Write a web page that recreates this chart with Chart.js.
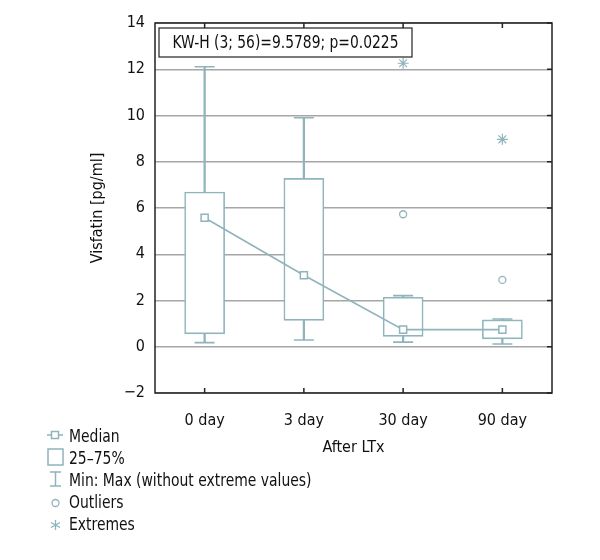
<!DOCTYPE html>
<html>
<head>
<meta charset="utf-8">
<script src="https://cdn.jsdelivr.net/npm/chart.js@4.4.1/dist/chart.umd.min.js"></script>
<style>
  body { margin: 0; background: #fff; }
  #wrap { position: relative; width: 600px; height: 560px; }
  #legend {
    position: absolute; left: 45px; top: 424px;
    font: 18px 'Liberation Sans Narrow', 'DejaVu Sans Condensed', 'Roboto Condensed', sans-serif;
    color: #111;
  }
  .row { height: 22px; display: flex; align-items: center; white-space: nowrap; }
  .row svg { width: 20px; height: 22px; margin-right: 4px; flex: none; }
  .row span { display: inline-block; transform: scaleX(0.86); transform-origin: left center; }
</style>
</head>
<body>
<div id="wrap">
  <canvas id="grafico" width="600" height="560"></canvas>
  <div id="legend"></div>
</div>
<script>
// Dados do gráfico
var categories = ['0 day', '3 day', '30 day', '90 day'];
var whiskerMin = [0.18, 0.29, 0.2, 0.12];
var boxQ1      = [0.56, 1.14, 0.45, 0.34];
var medians    = [5.58, 3.09, 0.74, 0.74];
var boxQ3      = [6.69, 7.28, 2.14, 1.16];
var whiskerMax = [12.11, 9.9, 2.21, 1.2];
var outliers   = [null, null, 5.73, 2.89];
var extremes   = [null, null, 12.26, 8.97];
var yMin = -2, yMax = 14, yStep = 2;
var statText = 'KW-H (3; 56)=9.5789; p=0.0225';
var legendLabels = ['Median', '25\u201375%', 'Min: Max (without extreme values)', 'Outliers', 'Extremes'];

var cor = '#8fb4bc';
var fonte = "'Liberation Sans Narrow', 'DejaVu Sans Condensed', 'Roboto Condensed', sans-serif";

// Moldura com marcas para dentro
var molduraPlugin = {
  id: 'moldura',
  afterDraw: function (chart) {
    var ctx = chart.ctx, a = chart.chartArea;
    var x = chart.scales.x, y = chart.scales.y;
    ctx.save();
    ctx.strokeStyle = '#222';
    ctx.lineWidth = 1.5;
    ctx.strokeRect(a.left, a.top, a.right - a.left, a.bottom - a.top);
    ctx.beginPath();
    for (var i = 0; i < categories.length; i++) {
      var px = x.getPixelForTick(i);
      ctx.moveTo(px, a.top); ctx.lineTo(px, a.top + 5);
      ctx.moveTo(px, a.bottom); ctx.lineTo(px, a.bottom - 5);
    }
    for (var v = yMin; v <= yMax; v += yStep) {
      var py = y.getPixelForValue(v);
      ctx.moveTo(a.right, py); ctx.lineTo(a.right - 5, py);
    }
    ctx.stroke();

    // Caixa com o teste estatístico
    ctx.font = '18px ' + fonte;
    ctx.fillStyle = '#fff';
    ctx.fillRect(a.left + 4, a.top + 5, 253, 29);
    ctx.lineWidth = 1.2;
    ctx.strokeRect(a.left + 4, a.top + 5, 253, 29);
    ctx.fillStyle = '#111';
    ctx.textAlign = 'center';
    ctx.textBaseline = 'middle';
    ctx.fillText(statText, a.left + 4 + 126.5, a.top + 5 + 15, 226);
    ctx.restore();
  }
};

var ctx = document.getElementById('grafico').getContext('2d');
var grafico = new Chart(ctx, {
  type: 'bar',
  data: {
    labels: categories,
    datasets: [
      {
        label: 'Median',
        type: 'line',
        data: medians,
        borderColor: cor,
        borderWidth: 1.6,
        pointStyle: 'rect',
        pointRadius: 5,
        pointBackgroundColor: '#fff',
        pointBorderColor: cor,
        pointBorderWidth: 1.5,
        tension: 0,
        order: 0
      },
      {
        label: 'Outliers',
        type: 'line',
        data: outliers,
        showLine: false,
        pointStyle: 'circle',
        pointRadius: 3.5,
        pointBackgroundColor: '#fff',
        pointBorderColor: cor,
        pointBorderWidth: 1.3,
        order: 1
      },
      {
        label: 'Extremes',
        type: 'line',
        data: extremes,
        showLine: false,
        pointStyle: 'star',
        pointRadius: 5.5,
        pointBorderColor: cor,
        pointBorderWidth: 1.2,
        order: 1
      },
      {
        label: 'Max',
        type: 'line',
        data: whiskerMax,
        showLine: false,
        pointStyle: 'line',
        pointRadius: 10,
        pointBorderColor: cor,
        pointBorderWidth: 1.6,
        order: 2
      },
      {
        label: 'Min',
        type: 'line',
        data: whiskerMin,
        showLine: false,
        pointStyle: 'line',
        pointRadius: 10,
        pointBorderColor: cor,
        pointBorderWidth: 1.6,
        order: 2
      },
      {
        label: '25-75%',
        data: boxQ1.map(function (q, i) { return [q, boxQ3[i]]; }),
        backgroundColor: '#fff',
        borderColor: cor,
        borderWidth: 1.6,
        borderSkipped: false,
        barThickness: 40,
        grouped: false,
        order: 3
      },
      {
        label: 'whisker low',
        data: whiskerMin.map(function (m, i) { return [m, boxQ1[i]]; }),
        backgroundColor: cor,
        borderWidth: 0,
        barThickness: 1.6,
        grouped: false,
        order: 4
      },
      {
        label: 'whisker high',
        data: boxQ3.map(function (q, i) { return [q, whiskerMax[i]]; }),
        backgroundColor: cor,
        borderWidth: 0,
        barThickness: 1.6,
        grouped: false,
        order: 4
      }
    ]
  },
  options: {
    responsive: false,
    animation: false,
    layout: { padding: { left: 88, right: 48, top: 23, bottom: 97 } },
    plugins: {
      legend: { display: false },
      tooltip: { enabled: false }
    },
    scales: {
      x: {
        offset: true,
        grid: { display: false },
        border: { display: false },
        ticks: { color: '#111', font: { family: fonte, size: 16 }, padding: 10 },
        title: { display: true, text: 'After LTx', color: '#111', font: { family: fonte, size: 16 }, padding: { top: 0, bottom: 6 } },
        afterFit: function (scale) { scale.height = 70; }
      },
      y: {
        min: yMin,
        max: yMax,
        ticks: {
          stepSize: yStep,
          color: '#111',
          font: { family: fonte, size: 16 },
          padding: 10,
          callback: function (value) { return value < 0 ? '\u2212' + Math.abs(value) : value; }
        },
        grid: { color: '#a6a6a6', lineWidth: 1.5, drawTicks: false },
        border: { display: false },
        title: { display: true, text: 'Visfatin [pg/ml]', color: '#111', font: { family: fonte, size: 16 }, padding: { top: 0, bottom: 0 } },
        afterFit: function (scale) { scale.width = 67; }
      }
    }
  },
  plugins: [molduraPlugin]
});

// Legenda em HTML
var simbolos = [
  '<svg viewBox="0 0 20 22"><line x1="2" y1="11" x2="18" y2="11" stroke="' + cor + '" stroke-width="1.5"/><rect x="6.5" y="7.5" width="7" height="7" fill="#fff" stroke="' + cor + '" stroke-width="1.5"/></svg>',
  '<svg viewBox="0 0 20 22"><rect x="3" y="3" width="15" height="16" fill="#fff" stroke="' + cor + '" stroke-width="1.5"/></svg>',
  '<svg viewBox="0 0 20 22"><path d="M5 4H16M10.5 4V18M5 18H16" fill="none" stroke="' + cor + '" stroke-width="1.5"/></svg>',
  '<svg viewBox="0 0 20 22"><circle cx="10.5" cy="13" r="3.5" fill="#fff" stroke="' + cor + '" stroke-width="1.3"/></svg>',
  '<svg viewBox="0 0 20 22"><path d="M10.5 8V18M6 10.5L15 15.5M6 15.5L15 10.5" fill="none" stroke="' + cor + '" stroke-width="1.3"/></svg>'
];
var legendHtml = '';
for (var i = 0; i < legendLabels.length; i++) {
  legendHtml += '<div class="row">' + simbolos[i] + '<span>' + legendLabels[i] + '</span></div>';
}
document.getElementById('legend').innerHTML = legendHtml;
</script>
</body>
</html>
